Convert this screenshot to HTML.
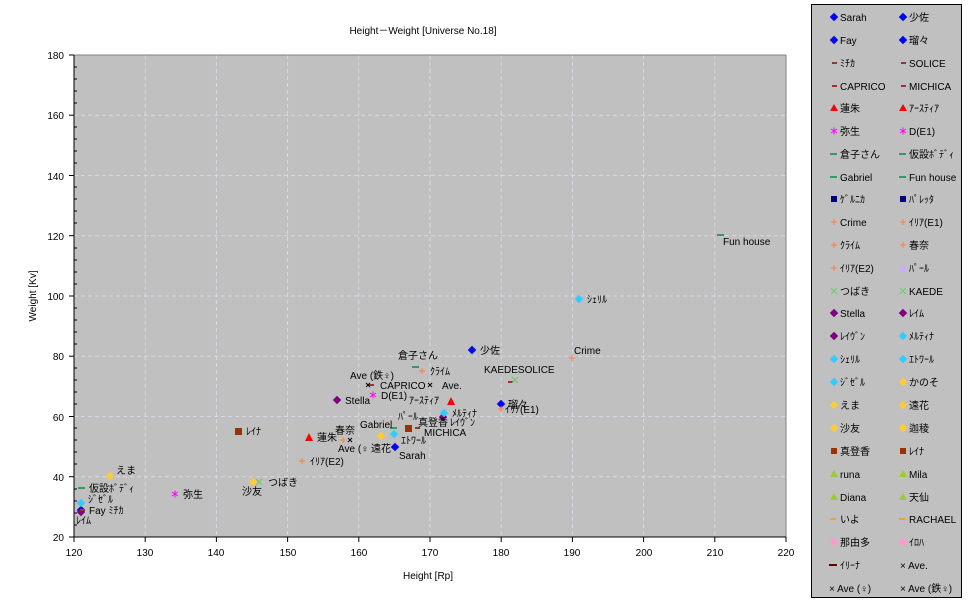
<!DOCTYPE html>
<html><head><meta charset="utf-8"><style>
body{margin:0;background:#fff;}
svg text{font-family:"Liberation Sans","Noto Sans CJK JP",sans-serif;font-size:10px;fill:#000;}
</style></head><body>
<svg width="970" height="604" xmlns="http://www.w3.org/2000/svg">
<defs>
<g id="dia"><rect x="-3" y="-3" width="6" height="6" transform="rotate(45)"/></g>
<g id="ast" stroke="#ff00ff" stroke-width="1"><path d="M0 -3.5v7M-3 -2l6 4M3 -2l-6 4"/></g>
</defs>
<text x="423" y="34" text-anchor="middle" font-size="11">Height－Weight [Universe No.18]</text>
<rect x="74" y="55" width="712" height="482" fill="#c0c0c0"/>
<g stroke="#d8d8e4" stroke-dasharray="4,3" stroke-width="1">
<line x1="145.2" y1="55" x2="145.2" y2="537"/><line x1="216.4" y1="55" x2="216.4" y2="537"/>
<line x1="287.6" y1="55" x2="287.6" y2="537"/><line x1="358.8" y1="55" x2="358.8" y2="537"/>
<line x1="430" y1="55" x2="430" y2="537"/><line x1="501.2" y1="55" x2="501.2" y2="537"/>
<line x1="572.4" y1="55" x2="572.4" y2="537"/><line x1="643.6" y1="55" x2="643.6" y2="537"/>
<line x1="714.8" y1="55" x2="714.8" y2="537"/>
<line x1="74" y1="115.2" x2="786" y2="115.2"/><line x1="74" y1="175.5" x2="786" y2="175.5"/>
<line x1="74" y1="235.7" x2="786" y2="235.7"/><line x1="74" y1="296" x2="786" y2="296"/>
<line x1="74" y1="356.2" x2="786" y2="356.2"/><line x1="74" y1="416.5" x2="786" y2="416.5"/>
<line x1="74" y1="476.7" x2="786" y2="476.7"/>
</g>
<line x1="74" y1="55" x2="786" y2="55" stroke="#808080"/>
<line x1="786" y1="55" x2="786" y2="537" stroke="#808080"/>
<line x1="74" y1="55" x2="74" y2="537" stroke="#000"/>
<line x1="74" y1="537" x2="786" y2="537" stroke="#000"/>
<g stroke="#000">
<line x1="69" y1="55" x2="74" y2="55"/><line x1="69" y1="115.2" x2="74" y2="115.2"/><line x1="69" y1="175.5" x2="74" y2="175.5"/><line x1="69" y1="235.7" x2="74" y2="235.7"/><line x1="69" y1="296" x2="74" y2="296"/><line x1="69" y1="356.2" x2="74" y2="356.2"/><line x1="69" y1="416.5" x2="74" y2="416.5"/><line x1="69" y1="476.7" x2="74" y2="476.7"/><line x1="69" y1="537" x2="74" y2="537"/>
<line x1="74" y1="542" x2="74" y2="537"/><line x1="145.2" y1="542" x2="145.2" y2="537"/><line x1="216.4" y1="542" x2="216.4" y2="537"/><line x1="287.6" y1="542" x2="287.6" y2="537"/><line x1="358.8" y1="542" x2="358.8" y2="537"/><line x1="430" y1="542" x2="430" y2="537"/><line x1="501.2" y1="542" x2="501.2" y2="537"/><line x1="572.4" y1="542" x2="572.4" y2="537"/><line x1="643.6" y1="542" x2="643.6" y2="537"/><line x1="714.8" y1="542" x2="714.8" y2="537"/><line x1="786" y1="542" x2="786" y2="537"/>
</g>
<g stroke="#000" stroke-width="1">
<path d="M74 67h3M74 79h3M74 91h3M74 103h3M74 127h3M74 139h3M74 151h3M74 163h3M74 187h3M74 199h3M74 211h3M74 223h3M74 248h3M74 260h3M74 272h3M74 284h3M74 308h3M74 320h3M74 332h3M74 344h3M74 368h3M74 380h3M74 392h3M74 404h3M74 428h3M74 440h3M74 452h3M74 464h3M74 489h3M74 501h3M74 513h3M74 525h3"/>
</g>
<g>
<text x="64" y="59" text-anchor="end" font-size="12">180</text>
<text x="64" y="119" text-anchor="end" font-size="12">160</text>
<text x="64" y="180" text-anchor="end" font-size="12">140</text>
<text x="64" y="240" text-anchor="end" font-size="12">120</text>
<text x="64" y="300" text-anchor="end" font-size="12">100</text>
<text x="64" y="360" text-anchor="end" font-size="12">80</text>
<text x="64" y="421" text-anchor="end" font-size="12">60</text>
<text x="64" y="481" text-anchor="end" font-size="12">40</text>
<text x="64" y="541" text-anchor="end" font-size="12">20</text>
</g>
<g text-anchor="middle">
<text x="74" y="556" font-size="12">120</text><text x="145" y="556" font-size="12">130</text><text x="216" y="556" font-size="12">140</text><text x="288" y="556" font-size="12">150</text><text x="359" y="556" font-size="12">160</text><text x="430" y="556" font-size="12">170</text><text x="501" y="556" font-size="12">180</text><text x="572" y="556" font-size="12">190</text><text x="644" y="556" font-size="12">200</text><text x="715" y="556" font-size="12">210</text><text x="786" y="556" font-size="12">220</text>
</g>
<text x="428" y="579" text-anchor="middle">Height [Rp]</text>
<text transform="translate(36,296) rotate(-90)" text-anchor="middle">Weight [Kv]</text>

<!-- points -->
<g fill="#0000ff"><use href="#dia" x="395" y="447"/><use href="#dia" x="472" y="350"/><use href="#dia" x="81" y="510"/><use href="#dia" x="501" y="404"/></g>
<g fill="#800080"><use href="#dia" x="337" y="400"/><use href="#dia" x="81" y="512"/><use href="#dia" x="443" y="417"/></g>
<g fill="#33ccff"><use href="#dia" x="444" y="413"/><use href="#dia" x="579" y="299"/><use href="#dia" x="394" y="434"/><use href="#dia" x="81" y="503"/></g>
<g fill="#993333"><rect x="508" y="381" width="5" height="2"/><rect x="369" y="384" width="5" height="2"/><rect x="415" y="427" width="5" height="2"/><rect x="80" y="509" width="5" height="2"/></g>
<g fill="#ff0000"><polygon points="309,433 305,441 313,441"/><polygon points="451,397 447,405 455,405"/></g>
<use href="#ast" x="175" y="494"/><use href="#ast" x="373" y="395"/>
<g fill="#339966"><rect x="412" y="366" width="7" height="2"/><rect x="78" y="487" width="7" height="2"/><rect x="390" y="427" width="7" height="2"/><rect x="717" y="234" width="7" height="2"/></g>
<g stroke="#ff8040" stroke-width="1"><path d="M572 355v6M569 358h6M501 406v6M498 409h6M422 368v6M419 371h6M343 437v6M340 440h6M302 458v6M299 461h6"/></g>
<g stroke="#66cc66"><path d="M256 479l6 6M262 479l-6 6M512 377l6 6M518 377l-6 6"/></g>
<g fill="#ffcc33"><use href="#dia" x="381" y="436"/><use href="#dia" x="110" y="476"/><use href="#dia" x="253" y="482"/></g>
<g fill="#993300"><rect x="405" y="425" width="7" height="7"/><rect x="235" y="428" width="7" height="7"/></g>
<g stroke="#000"><path d="M348 438l4 4M352 438l-4 4M428 383l4 4M432 383l-4 4M366 383l4 4M370 383l-4 4"/></g>

<!-- labels -->
<text x="399" y="459">Sarah</text>
<text x="480" y="354">少佐</text>
<text x="89" y="514">Fay ﾐﾁｶ</text>
<text x="76" y="524">ﾚｲﾑ</text>
<text x="508" y="408">瑠々</text>
<text x="505" y="413">ｲﾘｱ(E1)</text>
<text x="484" y="373">KAEDESOLICE</text>
<text x="380" y="389">CAPRICO</text>
<text x="442" y="389">Ave.</text>
<text x="350" y="379">Ave (鉄♀)</text>
<text x="381" y="399">D(E1)</text>
<text x="398" y="359">倉子さん</text>
<text x="430" y="375">ｸﾗｲﾑ</text>
<text x="345" y="404">Stella</text>
<text x="409" y="404">ｱｰｽﾃｨｱ</text>
<text x="452" y="417">ﾒﾙﾃｨﾅ</text>
<text x="398" y="420">ﾊﾟｰﾙ</text>
<text x="418" y="426">真登香</text>
<text x="450" y="426">ﾚｲｳﾞﾝ</text>
<text x="424" y="436">MICHICA</text>
<text x="360" y="428">Gabriel</text>
<text x="335" y="434">春奈</text>
<text x="317" y="441">蓮朱</text>
<text x="338" y="452">Ave (♀</text>
<text x="371" y="452">遠花</text>
<text x="401" y="444">ｴﾄﾜｰﾙ</text>
<text x="310" y="465">ｲﾘｱ(E2)</text>
<text x="246" y="435">ﾚｲﾅ</text>
<text x="268" y="486">つばき</text>
<text x="242" y="495">沙友</text>
<text x="183" y="498">弥生</text>
<text x="116" y="474">えま</text>
<text x="89" y="492">仮設ﾎﾞﾃﾞｨ</text>
<text x="88" y="503">ｼﾞｾﾞﾙ</text>
<text x="574" y="354">Crime</text>
<text x="587" y="303">ｼｪﾘﾙ</text>
<text x="723" y="245">Fun house</text>

<!-- legend -->
<rect x="811.5" y="4.5" width="150" height="593" fill="#c0c0c0" stroke="#000"/>
<g font-size="10">
<g fill="#0000ff"><use href="#dia" x="834" y="17"/><use href="#dia" x="903" y="17"/><use href="#dia" x="834" y="40"/><use href="#dia" x="903" y="40"/></g>
<text x="840" y="21">Sarah</text><text x="909" y="21">少佐</text>
<text x="840" y="44">Fay</text><text x="909" y="44">瑠々</text>
<g fill="#993333"><rect x="832" y="62" width="5" height="2"/><rect x="901" y="62" width="5" height="2"/><rect x="832" y="85" width="5" height="2"/><rect x="901" y="85" width="5" height="2"/></g>
<text x="840" y="67">ﾐﾁｶ</text><text x="909" y="67">SOLICE</text>
<text x="840" y="90">CAPRICO</text><text x="909" y="90">MICHICA</text>
<g fill="#ff0000"><polygon points="834,104 830,111 838,111"/><polygon points="903,104 899,111 907,111"/></g>
<text x="840" y="112">蓮朱</text><text x="909" y="112">ｱｰｽﾃｨｱ</text>
<use href="#ast" x="834" y="131"/><use href="#ast" x="903" y="131"/>
<text x="840" y="135">弥生</text><text x="909" y="135">D(E1)</text>
<g fill="#339966"><rect x="830" y="153" width="7" height="2"/><rect x="899" y="153" width="7" height="2"/><rect x="830" y="176" width="7" height="2"/><rect x="899" y="176" width="7" height="2"/></g>
<text x="840" y="158">倉子さん</text><text x="909" y="158">仮設ﾎﾞﾃﾞｨ</text>
<text x="840" y="181">Gabriel</text><text x="909" y="181">Fun house</text>
<g fill="#000080"><rect x="831" y="196" width="6" height="6"/><rect x="900" y="196" width="6" height="6"/></g>
<text x="840" y="203">ｹﾞﾙﾆｶ</text><text x="909" y="203">ﾊﾟﾚｯﾀ</text>
<g stroke="#ff8040"><path d="M834 219v6M831 222h6M903 219v6M900 222h6M834 242v6M831 245h6M903 242v6M900 245h6M834 265v6M831 268h6"/></g>
<text x="840" y="226">Crime</text><text x="909" y="226">ｲﾘｱ(E1)</text>
<text x="840" y="249">ｸﾗｲﾑ</text><text x="909" y="249">春奈</text>
<text x="840" y="272">ｲﾘｱ(E2)</text><text x="909" y="272">ﾊﾟｰﾙ</text>
<polygon points="903,264 899,271 907,271" fill="#ccaaff"/>
<g stroke="#66cc66"><path d="M831 288l6 6M837 288l-6 6M900 288l6 6M906 288l-6 6"/></g>
<text x="840" y="295">つばき</text><text x="909" y="295">KAEDE</text>
<g fill="#800080"><use href="#dia" x="834" y="313"/><use href="#dia" x="903" y="313"/><use href="#dia" x="834" y="336"/></g>
<text x="840" y="317">Stella</text><text x="909" y="317">ﾚｲﾑ</text>
<text x="840" y="340">ﾚｲｳﾞﾝ</text><text x="909" y="340">ﾒﾙﾃｨﾅ</text>
<g fill="#33ccff"><use href="#dia" x="903" y="336"/><use href="#dia" x="834" y="359"/><use href="#dia" x="903" y="359"/><use href="#dia" x="834" y="382"/></g>
<text x="840" y="363">ｼｪﾘﾙ</text><text x="909" y="363">ｴﾄﾜｰﾙ</text>
<text x="840" y="386">ｼﾞｾﾞﾙ</text><text x="909" y="386">かのそ</text>
<g fill="#ffcc33"><use href="#dia" x="903" y="382"/><use href="#dia" x="834" y="405"/><use href="#dia" x="903" y="405"/><use href="#dia" x="834" y="428"/><use href="#dia" x="903" y="428"/></g>
<text x="840" y="409">えま</text><text x="909" y="409">遠花</text>
<text x="840" y="432">沙友</text><text x="909" y="432">迦稜</text>
<g fill="#993300"><rect x="831" y="448" width="6" height="6"/><rect x="900" y="448" width="6" height="6"/></g>
<text x="840" y="455">真登香</text><text x="909" y="455">ﾚｲﾅ</text>
<g fill="#99cc33"><polygon points="834,470 830,477 838,477"/><polygon points="903,470 899,477 907,477"/><polygon points="834,493 830,500 838,500"/><polygon points="903,493 899,500 907,500"/></g>
<text x="840" y="478">runa</text><text x="909" y="478">Mila</text>
<text x="840" y="501">Diana</text><text x="909" y="501">天仙</text>
<g fill="#ff9933"><rect x="830" y="518" width="6" height="2"/><rect x="899" y="518" width="6" height="2"/></g>
<text x="840" y="523">いよ</text><text x="909" y="523">RACHAEL</text>
<g fill="#ff99cc"><use href="#dia" x="834" y="542"/><use href="#dia" x="903" y="542"/></g>
<text x="840" y="546">那由多</text><text x="909" y="546">ｲﾛﾊ</text>
<rect x="829" y="564" width="8" height="2" fill="#660000"/>
<text x="840" y="569">ｲﾘｰﾅ</text><text x="900" y="569">× Ave.</text>
<text x="829" y="592">× Ave (♀)</text><text x="900" y="592">× Ave (鉄♀)</text>
</g>
</svg>
</body></html>
